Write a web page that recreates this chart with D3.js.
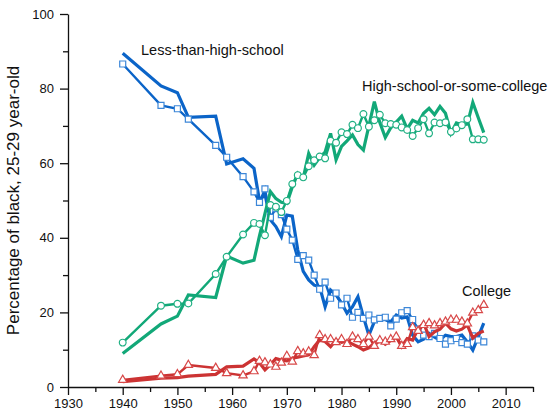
<!DOCTYPE html>
<html>
<head>
<meta charset="utf-8">
<script src="https://cdn.jsdelivr.net/npm/d3@7"></script>
<style>
  body { margin: 0; background: #fff; }
  svg { display: block; font-family: "Liberation Sans", Arial, sans-serif; }
</style>
</head>
<body>
<svg id="chart" width="556" height="413"></svg>
<script>
// survey years (thin line with markers) and the second estimate (thick line)
var years = [1940, 1947, 1950, 1952, 1957, 1959, 1962,
  1964, 1965, 1966, 1967, 1968, 1969, 1970, 1971, 1972, 1973, 1974, 1975,
  1976, 1977, 1978, 1979, 1980, 1981, 1982, 1983, 1984, 1985, 1986, 1987,
  1988, 1989, 1990, 1991, 1992, 1993, 1994, 1995, 1996, 1997, 1998, 1999,
  2000, 2001, 2002, 2003, 2004, 2005, 2006];

var lessMarker = [86.6, 75.5, 74.6, 71.8, 64.8, 61.6, 56.4,
  52.3, 49.5, 53.1, 45.5, 47.8, 46.2, 42.3, 39.4, 34.2, 35.2, 34.0, 30.0,
  26.2, 28.1, 23.8, 25.2, 22.0, 23.8, 18.7, 20.0, 18.4, 19.3, 18.0, 18.4,
  18.7, 16.4, 18.2, 19.9, 20.5, 18.1, 15.5, 13.9, 13.5, 14.4, 13.0, 11.5,
  12.4, 13.0, 11.9, 11.5, 13.7, 12.6, 12.1];
var lessLine = [89.5, 80.7, 78.9, 72.3, 72.6, 59.8, 61.2,
  58.6, 49.9, 51.7, 44.8, 43.0, 40.3, 46.1, 45.8, 36.7, 31.0, 28.7, 27.3,
  26.9, 21.5, 26.0, 24.7, 22.5, 19.8, 21.5, 24.2, 18.8, 13.9, 17.5, 18.5,
  18.0, 17.5, 19.3, 18.5, 18.8, 13.9, 12.1, 12.8, 14.4, 13.4, 12.6, 13.9,
  13.5, 13.5, 13.9, 12.1, 9.9, 13.5, 17.1];

var hsMarker = [11.9, 21.8, 22.3, 22.4, 30.3, 34.9, 40.9,
  44.0, 43.7, 40.7, 48.8, 48.3, 46.9, 49.9, 54.4, 56.8, 56.2, 59.2, 60.8,
  61.8, 61.3, 66.0, 65.5, 68.3, 67.8, 70.3, 69.4, 73.2, 69.8, 71.5, 73.0,
  70.7, 70.5, 70.3, 69.6, 68.9, 67.3, 69.4, 71.8, 68.0, 70.9, 70.7, 71.0,
  68.4, 69.3, 70.2, 71.8, 66.4, 66.4, 66.3];
var hsLine = [9.0, 16.9, 19.0, 24.7, 24.0, 35.1, 33.2,
  34.0, 40.5, 46.5, 52.4, 50.5, 49.5, 49.2, 53.6, 57.3, 56.0, 62.6, 59.5,
  61.5, 63.0, 68.0, 60.9, 64.5, 66.0, 67.6, 65.0, 63.5, 70.0, 76.5, 70.9,
  66.9, 69.5, 71.0, 72.6, 69.2, 71.5, 70.8, 73.4, 74.7, 73.0, 75.2, 73.4,
  68.0, 70.8, 70.3, 70.5, 76.3, 72.2, 68.2];

var collegeMarker = [1.9, 3.0, 3.4, 5.9, 5.1, 3.7, 3.1,
  4.2, 7.0, 6.6, 6.0, 5.4, 6.5, 8.3, 6.8, 9.6, 9.0, 9.5, 8.5,
  13.9, 12.8, 12.8, 12.0, 12.8, 11.5, 13.5, 12.8, 11.5, 13.5, 11.0, 12.5,
  12.1, 12.8, 13.5, 11.0, 11.5, 16.0, 15.0, 16.6, 17.1, 16.5, 17.1, 17.5,
  18.0, 18.0, 17.5, 17.0, 19.9, 20.6, 22.0];
var collegeLine = [1.4, 2.4, 2.5, 2.9, 3.4, 5.4, 5.6,
  7.5, 6.5, 4.6, 6.0, 7.6, 7.2, 7.0, 7.7, 8.0, 8.3, 8.6, 10.8,
  12.6, 12.2, 10.8, 12.6, 12.0, 12.3, 11.5, 10.8, 9.9, 10.5, 11.7, 12.8,
  11.5, 12.5, 13.5, 10.8, 13.0, 12.6, 15.6, 17.1, 13.5, 14.8, 15.5, 17.1,
  15.6, 15.0, 15.5, 16.6, 13.1, 14.4, 15.0];

var xTicks = [1930, 1940, 1950, 1960, 1970, 1980, 1990, 2000, 2010];
var yTicks = [0, 20, 40, 60, 80, 100];

var series = [
  { name: "Less-than-high-school", marker: lessMarker, line: lessLine,
    color: "#0b64c8", light: "#3d87d8", shape: d3.symbolSquare, size: 36, lx: 141, ly: 55 },
  { name: "High-school-or-some-college", marker: hsMarker, line: hsLine,
    color: "#12a878", light: "#20b083", shape: d3.symbolCircle, size: 36, lx: 362, ly: 91 },
  { name: "College", marker: collegeMarker, line: collegeLine,
    color: "#cc3333", light: "#d84848", shape: d3.symbolTriangle, size: 30, lx: 462, ly: 296 }
];

var svg = d3.select("#chart");

var x = d3.scaleLinear().domain([1930, 2015]).range([68, 533]);
var y = d3.scaleLinear().domain([0, 100]).range([387, 14]);

// axes: minor ticks first, then labelled majors
svg.append("g")
    .attr("transform", "translate(0," + y(0) + ")")
    .call(d3.axisBottom(x).tickValues(d3.range(1935, 2016, 10)).tickSize(5).tickSizeOuter(0).tickFormat(""))
    .call(function(g) { g.select(".domain").remove(); });
svg.append("g")
    .attr("transform", "translate(0," + y(0) + ")")
    .call(d3.axisBottom(x).tickValues(xTicks).tickSize(8).tickSizeOuter(0).tickFormat(d3.format("d")).tickPadding(4));

svg.append("g")
    .attr("transform", "translate(" + x(1930) + ",0)")
    .call(d3.axisLeft(y).tickValues(d3.range(10, 100, 20)).tickSize(5).tickSizeOuter(0).tickFormat(""))
    .call(function(g) { g.select(".domain").remove(); });
svg.append("g")
    .attr("transform", "translate(" + x(1930) + ",0)")
    .call(d3.axisLeft(y).tickValues(yTicks).tickSize(8).tickSizeOuter(0).tickPadding(6));

svg.selectAll(".tick text").attr("font-size", 13).attr("fill", "#111")
    .attr("font-family", "Liberation Sans, Arial, sans-serif");
svg.selectAll(".domain, .tick line").attr("stroke", "#111").attr("stroke-width", 1.3);

svg.append("text")
    .attr("transform", "translate(19," + y(50) + ") rotate(-90)")
    .attr("text-anchor", "middle")
    .attr("font-size", 17)
    .attr("fill", "#111")
    .text("Percentage of black, 25-29 year-old");

var line = d3.line()
    .x(function(d) { return x(d.year); })
    .y(function(d) { return y(d.value); });

series.forEach(function(s) {
  var markerPts = years.map(function(yr, i) { return { year: yr, value: s.marker[i] }; });
  var linePts = years.map(function(yr, i) { return { year: yr, value: s.line[i] }; });
  var g = svg.append("g");

  g.append("path")
      .datum(linePts)
      .attr("d", line)
      .attr("fill", "none")
      .attr("stroke", s.color)
      .attr("stroke-width", 3.2)
      .attr("stroke-linejoin", "miter");

  g.append("path")
      .datum(markerPts)
      .attr("d", line)
      .attr("fill", "none")
      .attr("stroke", s.color)
      .attr("stroke-width", 2.4);

  g.selectAll(".mk")
      .data(markerPts)
      .enter().append("path")
      .attr("class", "mk")
      .attr("transform", function(d) { return "translate(" + x(d.year) + "," + y(d.value) + ")"; })
      .attr("d", d3.symbol().type(s.shape).size(s.size))
      .attr("fill", "#fff")
      .attr("stroke", s.light)
      .attr("stroke-width", 1.2);

  svg.append("text")
      .attr("x", s.lx)
      .attr("y", s.ly)
      .attr("font-size", 14.5)
      .attr("fill", "#111")
      .text(s.name);
});
</script>
</body>
</html>
